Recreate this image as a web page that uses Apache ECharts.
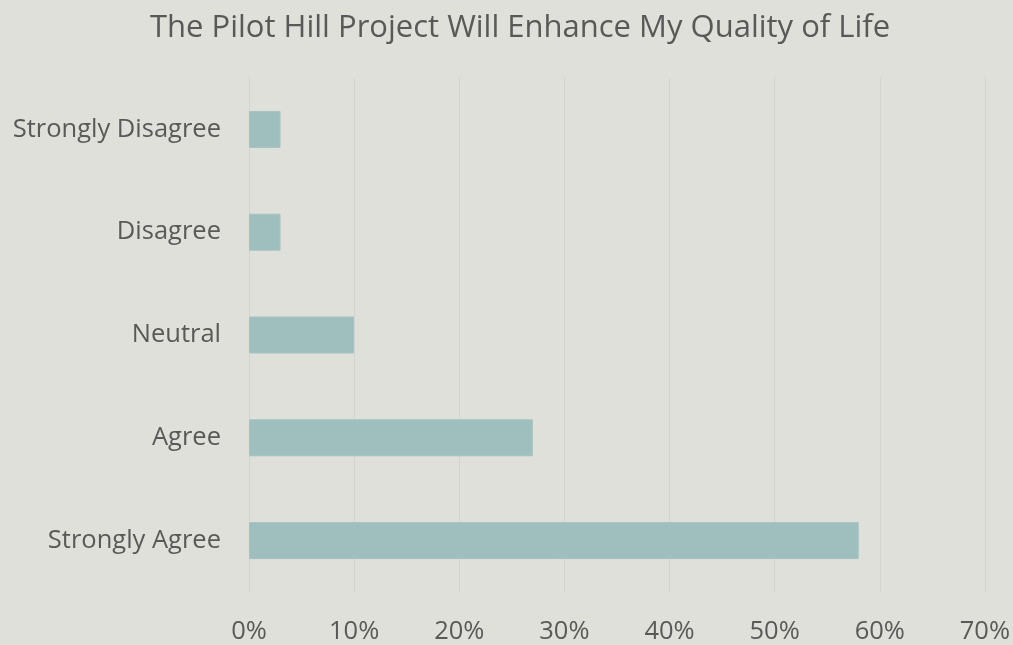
<!DOCTYPE html>
<html>
<head>
<meta charset="utf-8">
<script src="https://cdn.jsdelivr.net/npm/echarts@6/dist/echarts.min.js"></script>
<style>
  html, body { margin: 0; padding: 0; background: #e0e0da; }
  #chart { width: 1013px; height: 645px; }
</style>
</head>
<body>
<div id="chart"></div>
<script>
// top to bottom as shown
const categories = ['Strongly Disagree', 'Disagree', 'Neutral', 'Agree', 'Strongly Agree']
const shares = [3, 3, 10, 27, 58]
const titleText = 'The Pilot Hill Project Will Enhance My Quality of Life'

const chart = echarts.init(document.getElementById('chart'))
const option = {
  backgroundColor: '#e0e0da',
  textStyle: { fontFamily: '"Open Sans", sans-serif' },
  title: {
    text: titleText,
    left: 145,
    top: 8,
    textStyle: { fontSize: 31, fontWeight: 'normal', color: '#595959', fontFamily: '"Open Sans", sans-serif' }
  },
  grid: { left: 249, right: 28, top: 78, bottom: 52 },
  xAxis: {
    type: 'value',
    min: 0,
    max: 70,
    interval: 10,
    axisLine: { show: false },
    axisTick: { show: false },
    axisLabel: { formatter: '{value}%', fontSize: 25.5, color: '#595959', margin: 27 },
    splitLine: { show: true, lineStyle: { color: '#d4d4cf', width: 1 } }
  },
  yAxis: {
    type: 'category',
    data: categories,
    inverse: true,
    axisLine: { show: false },
    axisTick: { show: false },
    axisLabel: { fontSize: 25.5, color: '#595959', margin: 28 }
  },
  series: [
    {
      type: 'bar',
      data: shares,
      barWidth: 37,
      itemStyle: { color: '#9fbfbe', borderColor: '#a6c3c2', borderWidth: 1 }
    }
  ]
}
chart.setOption(option)
</script>
</body>
</html>
